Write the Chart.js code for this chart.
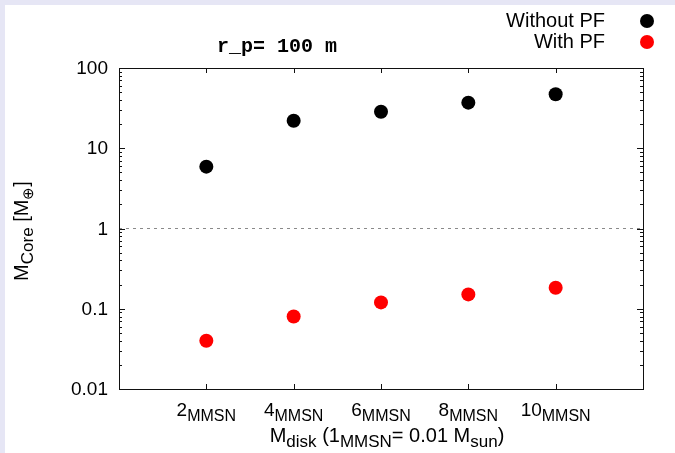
<!DOCTYPE html>
<html>
<head>
<meta charset="utf-8">
<script src="https://cdn.jsdelivr.net/npm/chart.js@4/dist/chart.umd.min.js"></script>
<style>
  html, body { margin: 0; padding: 0; background: #e6e6f5; }
  #wrap { position: absolute; left: 5px; top: 5px; width: 670px; height: 448px; background: #fff; }
</style>
</head>
<body>
<div id="wrap"><canvas id="chart" width="670" height="448"></canvas></div>
<script>
const diskMasses = [2, 4, 6, 8, 10];
const withoutPF = [5.9, 22, 28.5, 37, 47];
const withPF = [0.04, 0.08, 0.12, 0.151, 0.183];
const yTicks = [0.01, 0.1, 1, 10, 100];
const xTicks = [2, 4, 6, 8, 10];
const seriesLabels = ['Without PF', 'With PF'];
const seriesColors = ['#000000', '#ff0000'];

const SANS = '"Liberation Sans", Arial, sans-serif';

function pts(vals) {
  return diskMasses.map((m, i) => ({ x: m, y: vals[i] }));
}

// draws text pieces [str, size, dy] one after another, centred on cx
function drawPieces(ctx, parts, cx, y) {
  let total = 0;
  parts.forEach(p => { ctx.font = p[1] + 'px ' + SANS; total += ctx.measureText(p[0]).width; });
  let x = cx - total / 2;
  parts.forEach(p => {
    ctx.font = p[1] + 'px ' + SANS;
    ctx.fillText(p[0], x, y + p[2]);
    x += ctx.measureText(p[0]).width;
  });
}

// gnuplot-ish frame: border, inward ticks, labels, titles, key
const gnuFrame = {
  id: 'gnuFrame',
  afterDraw(chart) {
    const ctx = chart.ctx;
    const { left, right, top, bottom } = chart.chartArea;
    const xs = chart.scales.x, ys = chart.scales.y;
    ctx.save();
    ctx.strokeStyle = '#111';
    ctx.lineWidth = 1;
    ctx.strokeRect(Math.round(left) + 0.5, Math.round(top) + 0.5, Math.round(right - left), Math.round(bottom - top));

    ctx.beginPath();
    for (let d = 0; d < yTicks.length; d++) {
      const v = yTicks[d];
      const py = Math.round(ys.getPixelForValue(v)) + 0.5;
      ctx.moveTo(left, py); ctx.lineTo(left + 6, py);
      ctx.moveTo(right, py); ctx.lineTo(right - 6, py);
      if (d < yTicks.length - 1) {
        for (let k = 2; k < 10; k++) {
          const my = Math.round(ys.getPixelForValue(v * k)) + 0.5;
          ctx.moveTo(left, my); ctx.lineTo(left + 3, my);
          ctx.moveTo(right, my); ctx.lineTo(right - 3, my);
        }
      }
    }
    xTicks.forEach(v => {
      const px = Math.round(xs.getPixelForValue(v)) + 0.5;
      ctx.moveTo(px, bottom); ctx.lineTo(px, bottom - 5);
      ctx.moveTo(px, top); ctx.lineTo(px, top + 5);
    });
    ctx.stroke();

    ctx.fillStyle = '#000';
    ctx.font = '19px ' + SANS;
    ctx.textAlign = 'right';
    ctx.textBaseline = 'middle';
    yTicks.forEach(v => {
      ctx.fillText(String(v), left - 11, ys.getPixelForValue(v) + 1);
    });

    ctx.textAlign = 'left';
    ctx.textBaseline = 'alphabetic';
    xTicks.forEach(v => {
      drawPieces(ctx, [[String(v), 19, 0], ['MMSN', 16, 5]], xs.getPixelForValue(v), bottom + 27);
    });

    // x axis title
    drawPieces(ctx, [
      ['M', 20, 0], ['disk', 17, 5], [' (1', 20, 0], ['MMSN', 17, 5],
      ['= 0.01 M', 20, 0], ['sun', 17, 5], [')', 20, 0]
    ], (left + right) / 2 + 6, bottom + 53);

    // y axis title, rotated
    ctx.save();
    ctx.translate(23, 226);
    ctx.rotate(-Math.PI / 2);
    drawPieces(ctx, [['M', 20, 0], ['Core', 17, 5], [' [M', 20, 0], ['\u2295', 15, 5], [']', 20, 0]], 0, 0);
    ctx.restore();

    // title
    ctx.font = 'bold 20px "Liberation Mono", "Courier New", monospace';
    ctx.textAlign = 'center';
    ctx.textBaseline = 'middle';
    ctx.fillText('r_p= 100 m', 272, 42);

    // key (top right)
    ctx.font = '20px ' + SANS;
    ctx.textAlign = 'right';
    seriesLabels.forEach((lab, i) => {
      const ky = 16 + i * 21;
      ctx.fillStyle = '#000';
      ctx.fillText(lab, 600, ky);
      ctx.fillStyle = seriesColors[i];
      ctx.beginPath();
      ctx.arc(642, ky, 7, 0, Math.PI * 2);
      ctx.fill();
    });
    ctx.restore();
  }
};

new Chart(document.getElementById('chart'), {
  type: 'scatter',
  data: {
    datasets: [
      {
        label: 'unity',
        data: [{ x: 0, y: 1 }, { x: 12, y: 1 }],
        showLine: true,
        borderColor: '#8a8a8a',
        borderWidth: 1,
        borderDash: [3, 4],
        pointRadius: 0
      },
      {
        label: seriesLabels[0],
        data: pts(withoutPF),
        backgroundColor: seriesColors[0],
        borderColor: seriesColors[0],
        pointRadius: 7,
        borderWidth: 0
      },
      {
        label: seriesLabels[1],
        data: pts(withPF),
        backgroundColor: seriesColors[1],
        borderColor: seriesColors[1],
        pointRadius: 7,
        borderWidth: 0
      }
    ]
  },
  options: {
    responsive: false,
    animation: false,
    layout: { padding: { left: 114, right: 32, top: 63, bottom: 64 } },
    plugins: { legend: { display: false }, tooltip: { enabled: false } },
    scales: {
      x: { type: 'linear', min: 0, max: 12, display: false },
      y: { type: 'logarithmic', min: 0.01, max: 100, display: false }
    }
  },
  plugins: [gnuFrame]
});
</script>
</body>
</html>
